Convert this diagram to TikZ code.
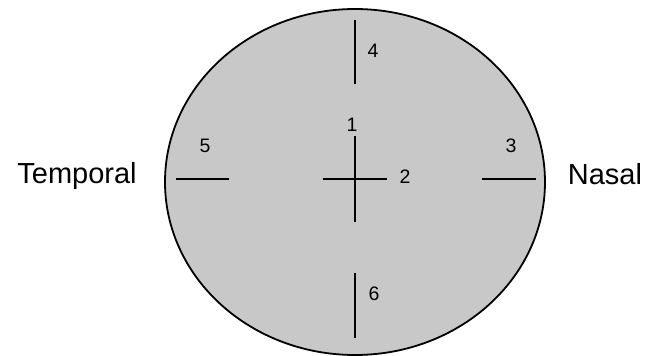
\documentclass[tikz,border=0pt]{standalone}
\usepackage{fontspec}
\setmainfont{Liberation Sans}
\usepackage{xcolor}
\usetikzlibrary{calc, shapes.geometric}

\definecolor{fieldgray}{RGB}{200,200,200}

\begin{document}
\begin{tikzpicture}[
        x=1pt, y=-1pt,
        line width=1.5pt,
        field/.style={
            draw, ellipse,
            fill=fieldgray,
            line width=1.8pt,
            minimum width=380pt,
            minimum height=346pt,
            inner sep=0pt
        },
        side/.style={
            anchor=base,
            inner sep=0pt,
            font=\fontsize{29}{34}\selectfont
        },
        num/.style={
            anchor=base,
            inner sep=0pt,
            font=\fontsize{19.5}{23}\selectfont
        },
    ]
    \useasboundingbox (0,0) rectangle (651,356);

    %============================================================
    % Visual field
    %============================================================
    \node[field] (FIELD) at (355,182) {};

    % Marks
    \coordinate (M4a) at (355,20);   \coordinate (M4b) at (355,84);
    \coordinate (M6a) at (355,273);  \coordinate (M6b) at (355,338);
    \coordinate (M5a) at (176,179);  \coordinate (M5b) at (229,179);
    \coordinate (M3a) at (482,179);  \coordinate (M3b) at (536,179);
    \coordinate (M1a) at (355,136);  \coordinate (M1b) at (355,222);
    \coordinate (M2a) at (323,179);  \coordinate (M2b) at (387,179);
    \foreach \m in {M4, M6, M5, M3, M1, M2}{
        \draw (\m a) -- (\m b);
    }

    %============================================================
    % Labels
    %============================================================
    \node[num] (L1) at (352,131) {1};
    \node[num] (L2) at (405,183) {2};
    \node[num] (L3) at (511,152) {3};
    \node[num] (L4) at (373,57)  {4};
    \node[num] (L5) at (205,152) {5};
    \node[num] (L6) at (374,300) {6};

    \node[side] (TEMP) at (77,183)  {Temporal};
    \node[side] (NAS)  at (605,184) {Nasal};

\end{tikzpicture}
\end{document}
